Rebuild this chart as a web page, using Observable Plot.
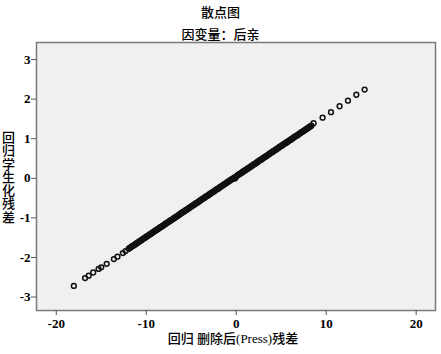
<!DOCTYPE html>
<html><head><meta charset="utf-8">
<script src="https://cdn.jsdelivr.net/npm/d3@7"></script>
<script src="https://cdn.jsdelivr.net/npm/@observablehq/plot@0.6"></script>
<style>
html,body{margin:0;padding:0;background:#fff;}
#wrap{position:relative;width:441px;height:354px;overflow:hidden;}
#chart{position:absolute;left:0;top:0;}
.t{position:absolute;font-family:"Noto Sans CJK SC","Liberation Serif",serif;color:#000;white-space:nowrap;}
</style></head>
<body>
<div id="wrap">
<div id="chart"></div>
<div class="t" id="title" style="left:0;width:441px;text-align:center;top:2px;font-size:13px;font-weight:500;"></div>
<div class="t" id="subtitle" style="left:0;width:441px;text-align:center;top:24px;font-size:13px;font-weight:500;"></div>
<div class="t" id="ylabel" style="left:1px;top:130px;width:15px;font-size:13px;line-height:13.3px;font-weight:500;white-space:normal;text-align:center;"></div>
<div class="t" id="xlabel" style="left:0;width:466px;text-align:center;top:328px;font-size:13px;font-weight:500;font-family:'Liberation Serif','Noto Sans CJK SC',serif;"></div>
</div>
<script>
const titleText = "散点图";
const subtitleText = "因变量：后亲";
const xLabel = "回归 删除后(Press)残差";
const yLabel = "回归学生化残差";
const xTicks = [-20, -10, 0, 10, 20];
const yTicks = [-3, -2, -1, 0, 1, 2, 3];

// 回归 删除后(Press)残差 — tails and first pass along the band
const pressResid = [
  -18.05, -16.8, -16.4, -15.9, -15.3, -15.0, -14.4, -13.6, -13.2, -12.6, -12.3,
  -11.95, -11.78, -11.6, -11.41, -11.22, -11.05, -10.86, -10.68, -10.5, -10.31,
  -10.12, -9.94, -9.75, -9.57, -9.38, -9.2, -9.01, -8.83, -8.64, -8.46,
  -8.27, -8.08, -7.9, -7.71, -7.53, -7.34, -7.16, -6.97, -6.79, -6.6,
  -6.41, -6.23, -6.04, -5.86, -5.67, -5.49, -5.3, -5.12, -4.93, -4.74,
  -4.56, -4.37, -4.19, -4.0, -3.82, -3.63, -3.45, -3.26, -3.07, -2.89,
  -2.7, -2.52, -2.33, -2.15, -1.96, -1.78, -1.59, -1.4, -1.22, -1.03,
  -0.85, -0.66, -0.48, -0.29, -0.11, 0.08, 0.27, 0.45, 0.64, 0.82,
  1.01, 1.19, 1.38, 1.56, 1.75, 1.94, 2.12, 2.31, 2.49, 2.68,
  2.86, 3.05, 3.23, 3.42, 3.61, 3.79, 3.98, 4.16, 4.35, 4.53,
  4.72, 4.9, 5.09, 5.28, 5.46, 5.65, 5.83, 6.02, 6.2, 6.39,
  6.57, 6.76, 6.95, 7.13, 7.32, 7.5, 7.69, 7.87, 8.06, 8.24,
  8.6, 9.6, 10.53, 11.49, 12.42, 13.35, 14.27
];
// 回归学生化残差
const studResid = [
  -2.72, -2.52, -2.46, -2.38, -2.29, -2.25, -2.16, -2.04, -1.98, -1.89, -1.84,
  -1.78, -1.75, -1.72, -1.70, -1.67, -1.64, -1.61, -1.58, -1.56, -1.53,
  -1.50, -1.47, -1.44, -1.41, -1.39, -1.36, -1.33, -1.30, -1.27, -1.24,
  -1.22, -1.19, -1.16, -1.13, -1.10, -1.07, -1.05, -1.02, -0.99, -0.96,
  -0.93, -0.90, -0.87, -0.85, -0.82, -0.79, -0.76, -0.73, -0.70, -0.68,
  -0.65, -0.62, -0.59, -0.56, -0.53, -0.51, -0.48, -0.45, -0.42, -0.39,
  -0.36, -0.34, -0.31, -0.28, -0.25, -0.22, -0.19, -0.16, -0.14, -0.11,
  -0.08, -0.05, -0.02, -0.01, -0.00, 0.06, 0.09, 0.12, 0.15, 0.18,
  0.20, 0.23, 0.26, 0.29, 0.32, 0.35, 0.37, 0.40, 0.43, 0.46,
  0.49, 0.52, 0.54, 0.57, 0.60, 0.63, 0.66, 0.69, 0.72, 0.74,
  0.77, 0.80, 0.83, 0.86, 0.89, 0.91, 0.94, 0.97, 1.00, 1.03,
  1.06, 1.08, 1.11, 1.14, 1.17, 1.20, 1.23, 1.25, 1.28, 1.31,
  1.39, 1.53, 1.67, 1.82, 1.96, 2.11, 2.24
];

// second pass of cases read along the solid band
const pressResid2 = [
  -11.87, -11.69, -11.5, -11.32, -11.13, -10.95, -10.77, -10.59, -10.4, -10.22,
  -10.03, -9.85, -9.66, -9.48, -9.29, -9.11, -8.92, -8.74, -8.55, -8.37,
  -8.18, -7.99, -7.81, -7.62, -7.44, -7.25, -7.07, -6.88, -6.7, -6.51,
  -6.32, -6.14, -5.95, -5.77, -5.58, -5.4, -5.21, -5.03, -4.84, -4.65,
  -4.47, -4.28, -4.1, -3.91, -3.73, -3.54, -3.36, -3.17, -2.98, -2.8,
  -2.61, -2.43, -2.24, -2.06, -1.87, -1.69, -1.5, -1.31, -1.13, -0.94,
  -0.76, -0.57, -0.39, -0.2, 0.17, 0.36, 0.55, 0.73, 0.92, 1.1,
  1.29, 1.47, 1.66, 1.85, 2.03, 2.22, 2.4, 2.59, 2.77, 2.96,
  3.14, 3.33, 3.52, 3.7, 3.89, 4.07, 4.26, 4.44, 4.63, 4.81,
  5.0, 5.19, 5.37, 5.56, 5.74, 5.93, 6.11, 6.3, 6.48, 6.67,
  6.86, 7.04, 7.23, 7.41, 7.6, 7.78, 7.97, 8.15, 8.35
];
const studResid2 = [
  -1.77, -1.74, -1.71, -1.68, -1.65, -1.63, -1.60, -1.57, -1.54, -1.51,
  -1.48, -1.46, -1.43, -1.40, -1.37, -1.34, -1.31, -1.29, -1.26, -1.23,
  -1.20, -1.17, -1.14, -1.12, -1.09, -1.06, -1.03, -1.00, -0.98, -0.95,
  -0.92, -0.89, -0.86, -0.83, -0.80, -0.78, -0.75, -0.72, -0.69, -0.66,
  -0.63, -0.61, -0.58, -0.55, -0.52, -0.49, -0.46, -0.44, -0.41, -0.38,
  -0.35, -0.32, -0.29, -0.27, -0.24, -0.21, -0.18, -0.15, -0.12, -0.09,
  -0.07, -0.04, -0.01, 0.02, 0.08, 0.11, 0.13, 0.16, 0.19, 0.22,
  0.25, 0.27, 0.30, 0.33, 0.36, 0.39, 0.42, 0.45, 0.47, 0.50,
  0.53, 0.56, 0.59, 0.62, 0.65, 0.67, 0.70, 0.73, 0.76, 0.79,
  0.82, 0.84, 0.87, 0.90, 0.93, 0.96, 0.98, 1.01, 1.04, 1.07,
  1.10, 1.13, 1.16, 1.18, 1.21, 1.24, 1.27, 1.30, 1.33
];

const data = pressResid.map((x, i) => ({x, y: studResid[i]}))
  .concat(pressResid2.map((x, i) => ({x, y: studResid2[i]})));
const numFont = "'Liberation Serif','Noto Sans CJK SC',serif";

const chart = Plot.plot({
  width: 441,
  height: 354,
  marginLeft: 36,
  marginTop: 42,
  marginRight: 6,
  marginBottom: 44,
  style: {fontFamily: numFont, fontSize: "13px", fontWeight: "bold", color: "#000", background: "transparent"},
  x: {domain: [-22.2, 22.15], label: null},
  y: {domain: [-3.34, 3.43], label: null},
  marks: [
    Plot.frame({fill: "#f0f0f0", stroke: null}),
    Plot.dot(data, {x: "x", y: "y", r: 2.4, stroke: "#111", strokeWidth: 1.5, fill: "none"}),
    Plot.frame({stroke: "#7a7a7a", strokeWidth: 1.5}),
    Plot.axisX({ticks: xTicks, tickSize: 5, tickPadding: 3, tickFormat: d => d, stroke: "#555", label: null}),
    Plot.axisY({ticks: yTicks, tickSize: 5, tickPadding: 1, tickFormat: d => d, stroke: "#555", label: null})
  ]
});
document.getElementById("chart").appendChild(chart);
document.getElementById("title").textContent = titleText;
document.getElementById("subtitle").textContent = subtitleText;
document.getElementById("xlabel").textContent = xLabel;
document.getElementById("ylabel").textContent = yLabel;
</script>
</body></html>
